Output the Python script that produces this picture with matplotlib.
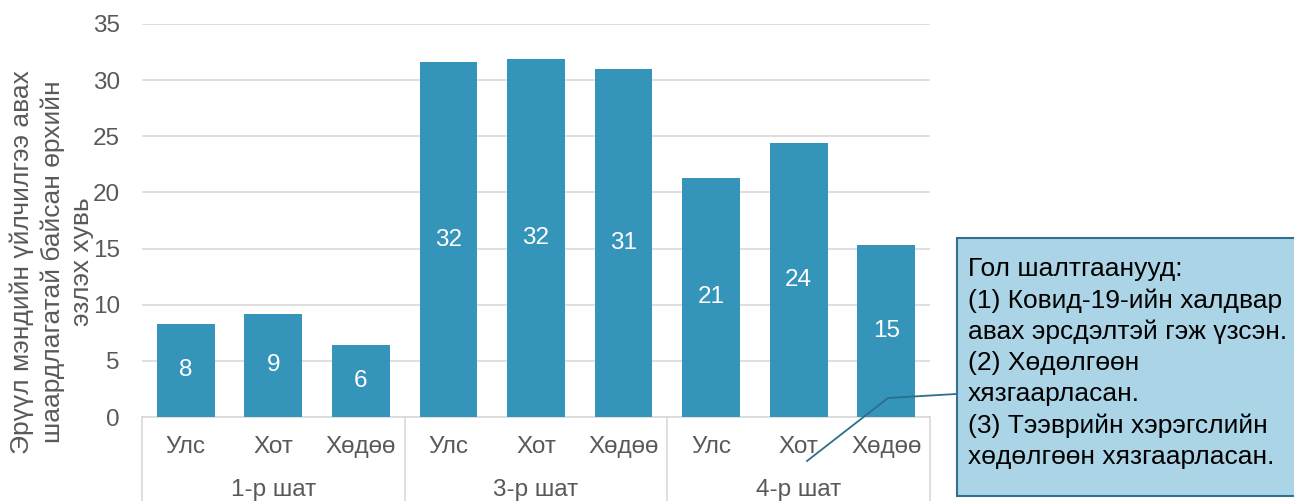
import matplotlib
matplotlib.use("Agg")
import matplotlib.pyplot as plt
from matplotlib.patches import Rectangle
from matplotlib.lines import Line2D

plt.rcParams["font.family"] = ["Liberation Sans", "DejaVu Sans"]

# ---------------------------
# data
# ---------------------------
stages = ["1-р шат", "3-р шат", "4-р шат"]
areas = ["Улс", "Хот", "Хөдөө"]
values = [8.3, 9.2, 6.4,
          31.6, 31.9, 31.0,
          21.3, 24.4, 15.3]
y_label_lines = ["Эрүүл мэндийн үйлчилгээ авах",
                 "шаардлагатай байсан өрхийн",
                 "эзлэх хувь"]
note = ("Гол шалтгаанууд:\n"
        "(1) Ковид-19-ийн халдвар\n"
        "авах эрсдэлтэй гэж үзсэн.\n"
        "(2) Хөдөлгөөн\n"
        "хязгаарласан.\n"
        "(3) Тээврийн хэрэгслийн\n"
        "хөдөлгөөн хязгаарласан.")

bar_color = "#3594BA"
grid_color = "#D9D9D9"
text_gray = "#595959"
fs = 17.5

W, H = 1294, 501
fig = plt.figure(figsize=(W / 100, H / 100), dpi=100)
ax = fig.add_axes([142 / W, 1 - 417 / H, 788 / W, 393 / H])

x = list(range(len(values)))
bars = ax.bar(x, values, width=0.66, color=bar_color, zorder=3)

for xi, v in zip(x, values):
    ax.text(xi, v / 2, f"{v:.0f}", ha="center", va="center",
            color="white", fontsize=fs, zorder=4)

ax.set_xlim(-0.5, len(values) - 0.5)
ax.set_ylim(0, 35)
ax.set_yticks(range(0, 36, 5))
ax.yaxis.grid(True, color=grid_color, linewidth=1.2, zorder=0)
ax.tick_params(axis="y", length=0, pad=16, labelsize=fs, labelcolor=text_gray)
ax.set_xticks([])
for side in ["top", "right", "left"]:
    ax.spines[side].set_visible(False)
ax.spines["bottom"].set_color(grid_color)
ax.spines["bottom"].set_linewidth(1.2)

# two-level category axis
for xi in x:
    ax.text(xi, (417 - 447) / 393, areas[xi % 3], transform=ax.get_xaxis_transform(),
            ha="center", va="center", fontsize=fs, color=text_gray)
for i, s in enumerate(stages):
    ax.text(3 * i + 1, (417 - 490) / 393, s, transform=ax.get_xaxis_transform(),
            ha="center", va="center", fontsize=fs, color=text_gray)
for sep in [-0.5, 2.5, 5.5, 8.5]:
    ax.plot([sep, sep], [0, -84 / 393], transform=ax.get_xaxis_transform(),
            color=grid_color, linewidth=1.2, clip_on=False)

# y axis title, one line at a time (Excel-style centred block)
for line, xpx in zip(y_label_lines, [22, 53, 82]):
    fig.text(xpx / W, 1 - 262 / H, line, rotation=90, ha="center", va="center",
             fontsize=19, color=text_gray)

# callout box with the main reasons
fig.patches.append(Rectangle((957 / W, 1 - 496 / H), 360 / W, 258 / H,
                             transform=fig.transFigure, facecolor="#ABD5E6",
                             edgecolor="#31708F", linewidth=1.5))
fig.lines.append(Line2D([956 / W, 888 / W, 807 / W],
                        [1 - 394 / H, 1 - 398 / H, 1 - 461 / H],
                        transform=fig.transFigure, color="#2B6F8C", linewidth=1.3))
fig.text(968 / W, 1 - 363 / H, note, ha="left", va="center",
         fontsize=19, color="black", linespacing=1.36)

fig.savefig("out.png", dpi=100)
